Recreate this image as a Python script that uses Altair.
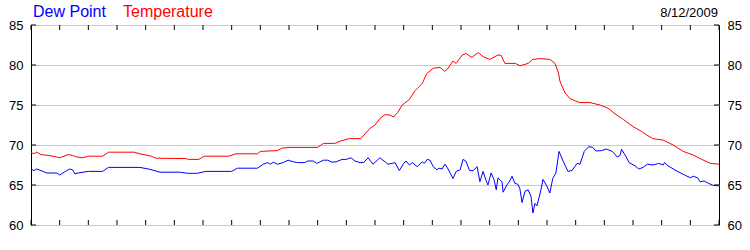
import json
import altair as alt
import pandas as pd

# ---- data ----
temp_hours = [0.0, 0.1, 0.2, 0.35, 0.6, 0.9, 1.0, 1.15, 1.3, 1.45, 1.6, 1.8, 2.0, 2.5, 2.7, 3.6, 3.8,
              4.2, 4.35, 5.4, 5.5, 5.85, 6.05, 6.9, 7.15, 7.9, 8.0, 8.6, 8.75, 9.0, 10.0, 10.2, 10.6,
              10.8, 11.1, 11.5, 11.83, 12.0, 12.17, 12.35, 12.52, 12.64, 12.8, 12.95, 13.2, 13.4,
              13.65, 13.8, 14.03, 14.27, 14.44, 14.55, 14.72, 14.83, 15.03, 15.17, 15.38, 15.6,
              15.77, 16.0, 16.29, 16.4, 16.53, 16.9, 17.06, 17.34, 17.5, 17.76, 18.1, 18.28, 18.4,
              18.45, 18.63, 18.8, 19.0, 19.15, 19.5, 19.85, 20.13, 20.37, 20.66, 21.0, 21.3, 21.48,
              21.7, 22.06, 22.4, 22.75, 23.1, 23.4, 23.7, 24.0]
temp_values = [69.1, 68.9, 69.1, 68.8, 68.7, 68.5, 68.4, 68.6, 68.8, 68.7, 68.5, 68.4, 68.6, 68.6, 69.1,
               69.1, 68.9, 68.6, 68.35, 68.3, 68.2, 68.2, 68.6, 68.6, 68.9, 68.9, 69.2, 69.3, 69.6, 69.7,
               69.7, 70.2, 70.2, 70.5, 70.8, 70.8, 72.1, 72.5, 73.3, 73.8, 73.75, 73.5, 74.1, 75.0, 75.7,
               76.8, 77.7, 78.9, 79.6, 79.7, 79.2, 79.6, 80.5, 80.2, 81.2, 81.45, 80.95, 81.55, 81.05,
               80.7, 81.25, 81.2, 80.2, 80.2, 79.9, 80.2, 80.7, 80.8, 80.7, 80.2, 79.0, 78.0, 76.5,
               75.8, 75.5, 75.3, 75.3, 75.0, 74.6, 73.9, 73.2, 72.3, 71.7, 71.25, 70.8, 70.6, 70.0,
               69.2, 68.75, 68.2, 67.7, 67.6]

dew_hours = [0.0, 0.1, 0.2, 0.35, 0.55, 0.9, 1.0, 1.2, 1.35, 1.45, 1.53, 1.64, 2.0, 2.5, 2.7, 3.8, 4.15,
             4.5, 5.2, 5.45, 5.8, 6.1, 7.0, 7.2, 7.9, 8.1, 8.25, 8.35, 8.45, 8.6, 8.8, 8.97, 9.15, 9.3,
             9.55, 9.65, 9.85, 9.97, 10.2, 10.35, 10.5, 10.65, 10.85, 11.0, 11.16, 11.3, 11.48, 11.6,
             11.76, 11.93, 12.17, 12.35, 12.45, 12.6, 12.7, 12.85, 12.98, 13.08, 13.2, 13.3, 13.47,
             13.65, 13.72, 13.82, 13.92, 14.03, 14.16, 14.23, 14.34, 14.44, 14.55, 14.72, 14.83,
             14.97, 15.07, 15.17, 15.3, 15.43, 15.56, 15.66, 15.77, 15.87, 15.94, 16.05, 16.15,
             16.23, 16.29, 16.43, 16.47, 16.6, 16.7, 16.78, 16.88, 16.98, 17.05, 17.13, 17.23,
             17.34, 17.44, 17.51, 17.58, 17.65, 17.79, 17.86, 17.99, 18.1, 18.2, 18.31, 18.42,
             18.56, 18.73, 18.87, 19.05, 19.15, 19.3, 19.46, 19.6, 19.7, 19.9, 20.07, 20.28, 20.45,
             20.55, 20.6, 20.75, 20.86, 21.07, 21.2, 21.35, 21.5, 21.7, 21.9, 22.05, 22.1, 22.22,
             22.5, 22.8, 23.0, 23.1, 23.25, 23.34, 23.48, 23.64, 23.8, 24.0]
dew_values = [67.0, 66.8, 67.0, 66.8, 66.5, 66.5, 66.25, 66.7, 67.0, 66.9, 66.4, 66.5, 66.7, 66.7, 67.2,
              67.2, 66.96, 66.6, 66.6, 66.46, 66.46, 66.7, 66.7, 67.1, 67.1, 67.6, 67.8, 67.6, 67.85,
              67.6, 67.8, 68.1, 67.9, 67.8, 67.8, 68.0, 68.0, 67.7, 68.1, 68.1, 67.85, 67.9, 68.2,
              68.2, 68.4, 68.0, 67.8, 67.8, 68.4, 67.6, 68.4, 67.9, 67.6, 67.7, 67.8, 66.8, 67.6,
              68.0, 67.5, 67.8, 67.3, 67.9, 67.7, 68.2, 68.1, 67.3, 66.9, 67.1, 67.0, 67.6, 67.0,
              65.8, 66.7, 66.9, 68.2, 68.0, 66.8, 66.8, 67.3, 65.4, 66.7, 65.6, 65.0, 66.5, 65.7,
              64.4, 65.9, 65.4, 64.1, 65.0, 65.5, 66.1, 65.2, 65.1, 64.6, 62.8, 64.2, 64.4, 63.6,
              61.5, 62.7, 62.4, 64.4, 65.7, 64.9, 64.0, 65.8, 66.5, 69.2, 68.0, 66.7, 66.8, 67.7,
              67.6, 69.2, 69.8, 69.7, 69.25, 69.3, 69.5, 69.2, 68.5, 68.7, 69.45, 68.6, 67.8, 67.4,
              67.0, 67.2, 67.6, 67.5, 67.7, 67.5, 67.8, 67.4, 66.8, 66.25, 65.9, 66.1, 65.9, 65.4,
              65.5, 65.2, 64.95, 64.9]

hour_ticks = list(range(25))
hour_labels = ['12', '1', '2', '3', '4', '5', '6', '7', '8', '9', '10', '11',
               '12', '1', '2', '3', '4', '5', '6', '7', '8', '9', '10', '11', '12']
y_ticks = [60, 65, 70, 75, 80, 85]
date_text = '8/12/2009'

FONT = 'Liberation Sans'
W, H = 688, 200

temp_df = pd.DataFrame({'hour': temp_hours, 'value': temp_values})
dew_df = pd.DataFrame({'hour': dew_hours, 'value': dew_values})
xt_df = pd.DataFrame({'hour': hour_ticks})
yt_df = pd.DataFrame({'v': y_ticks})
one = pd.DataFrame({'a': [0]})

xscale = alt.Scale(domain=[0, 24], nice=False, zero=False)
yscale = alt.Scale(domain=[60, 85], nice=False, zero=False)

label_expr = json.dumps(hour_labels) + '[datum.value]'

x_axis = alt.Axis(values=hour_ticks, labelExpr=label_expr, title=None, grid=True,
                  gridColor='#c8c8c8', domain=False, ticks=False, tickSize=0,
                  labelPadding=6, labelFlush=False, labelOverlap=False,
                  labelFont=FONT, labelFontSize=13, labelColor='black')

def y_axis(orient, pad):
    return alt.Axis(orient=orient, values=y_ticks, title=None, grid=(orient == 'left'),
                    gridColor='#c8c8c8', domain=False, ticks=False, tickSize=0,
                    labelPadding=pad, labelFlush=False, labelOverlap=False,
                    labelFont=FONT, labelFontSize=13, labelColor='black',
                    labelBaseline='middle')

temp_line = alt.Chart(temp_df).mark_line(color='#ff0000', strokeWidth=1, interpolate='linear').encode(
    x=alt.X('hour:Q', scale=xscale, axis=x_axis),
    y=alt.Y('value:Q', scale=yscale, axis=y_axis('left', 8)),
)
dew_line = alt.Chart(dew_df).mark_line(color='#0000ff', strokeWidth=1).encode(
    x=alt.X('hour:Q', scale=xscale, axis=None),
    y=alt.Y('value:Q', scale=yscale, axis=y_axis('right', 8)),
)

top_ticks = alt.Chart(xt_df).mark_rule(color='black', strokeWidth=1).encode(
    x=alt.X('hour:Q', scale=xscale, axis=None), y=alt.value(0), y2=alt.value(5))
bot_ticks = alt.Chart(xt_df).mark_rule(color='black', strokeWidth=1).encode(
    x=alt.X('hour:Q', scale=xscale, axis=None), y=alt.value(H - 5), y2=alt.value(H))
left_ticks = alt.Chart(yt_df).mark_rule(color='black', strokeWidth=1).encode(
    y=alt.Y('v:Q', scale=yscale, axis=None), x=alt.value(0), x2=alt.value(5))
right_ticks = alt.Chart(yt_df).mark_rule(color='black', strokeWidth=1).encode(
    y=alt.Y('v:Q', scale=yscale, axis=None), x=alt.value(W - 5), x2=alt.value(W))

t_dew = alt.Chart(one).mark_text(text='Dew Point', color='#0000ff', font=FONT, fontSize=16,
                                 align='left', baseline='alphabetic').encode(
    x=alt.value(2), y=alt.value(-8))
t_temp = alt.Chart(one).mark_text(text='Temperature', color='#ff0000', font=FONT, fontSize=16,
                                  align='left', baseline='alphabetic').encode(
    x=alt.value(92), y=alt.value(-8))
t_date = alt.Chart(one).mark_text(text=date_text, color='black', font=FONT, fontSize=13,
                                  align='right', baseline='alphabetic').encode(
    x=alt.value(W - 1), y=alt.value(-8))

chart = alt.layer(
    temp_line, dew_line, top_ticks, bot_ticks, left_ticks, right_ticks, t_dew, t_temp, t_date
).resolve_scale(y='independent').properties(
    width=W, height=H, autosize='none',
    padding={'left': 31, 'top': 25, 'right': 31, 'bottom': 25},
    background='white',
).configure_view(stroke='black', strokeWidth=1)

chart.save('out.html', embed_options={'renderer': 'svg', 'actions': False})
